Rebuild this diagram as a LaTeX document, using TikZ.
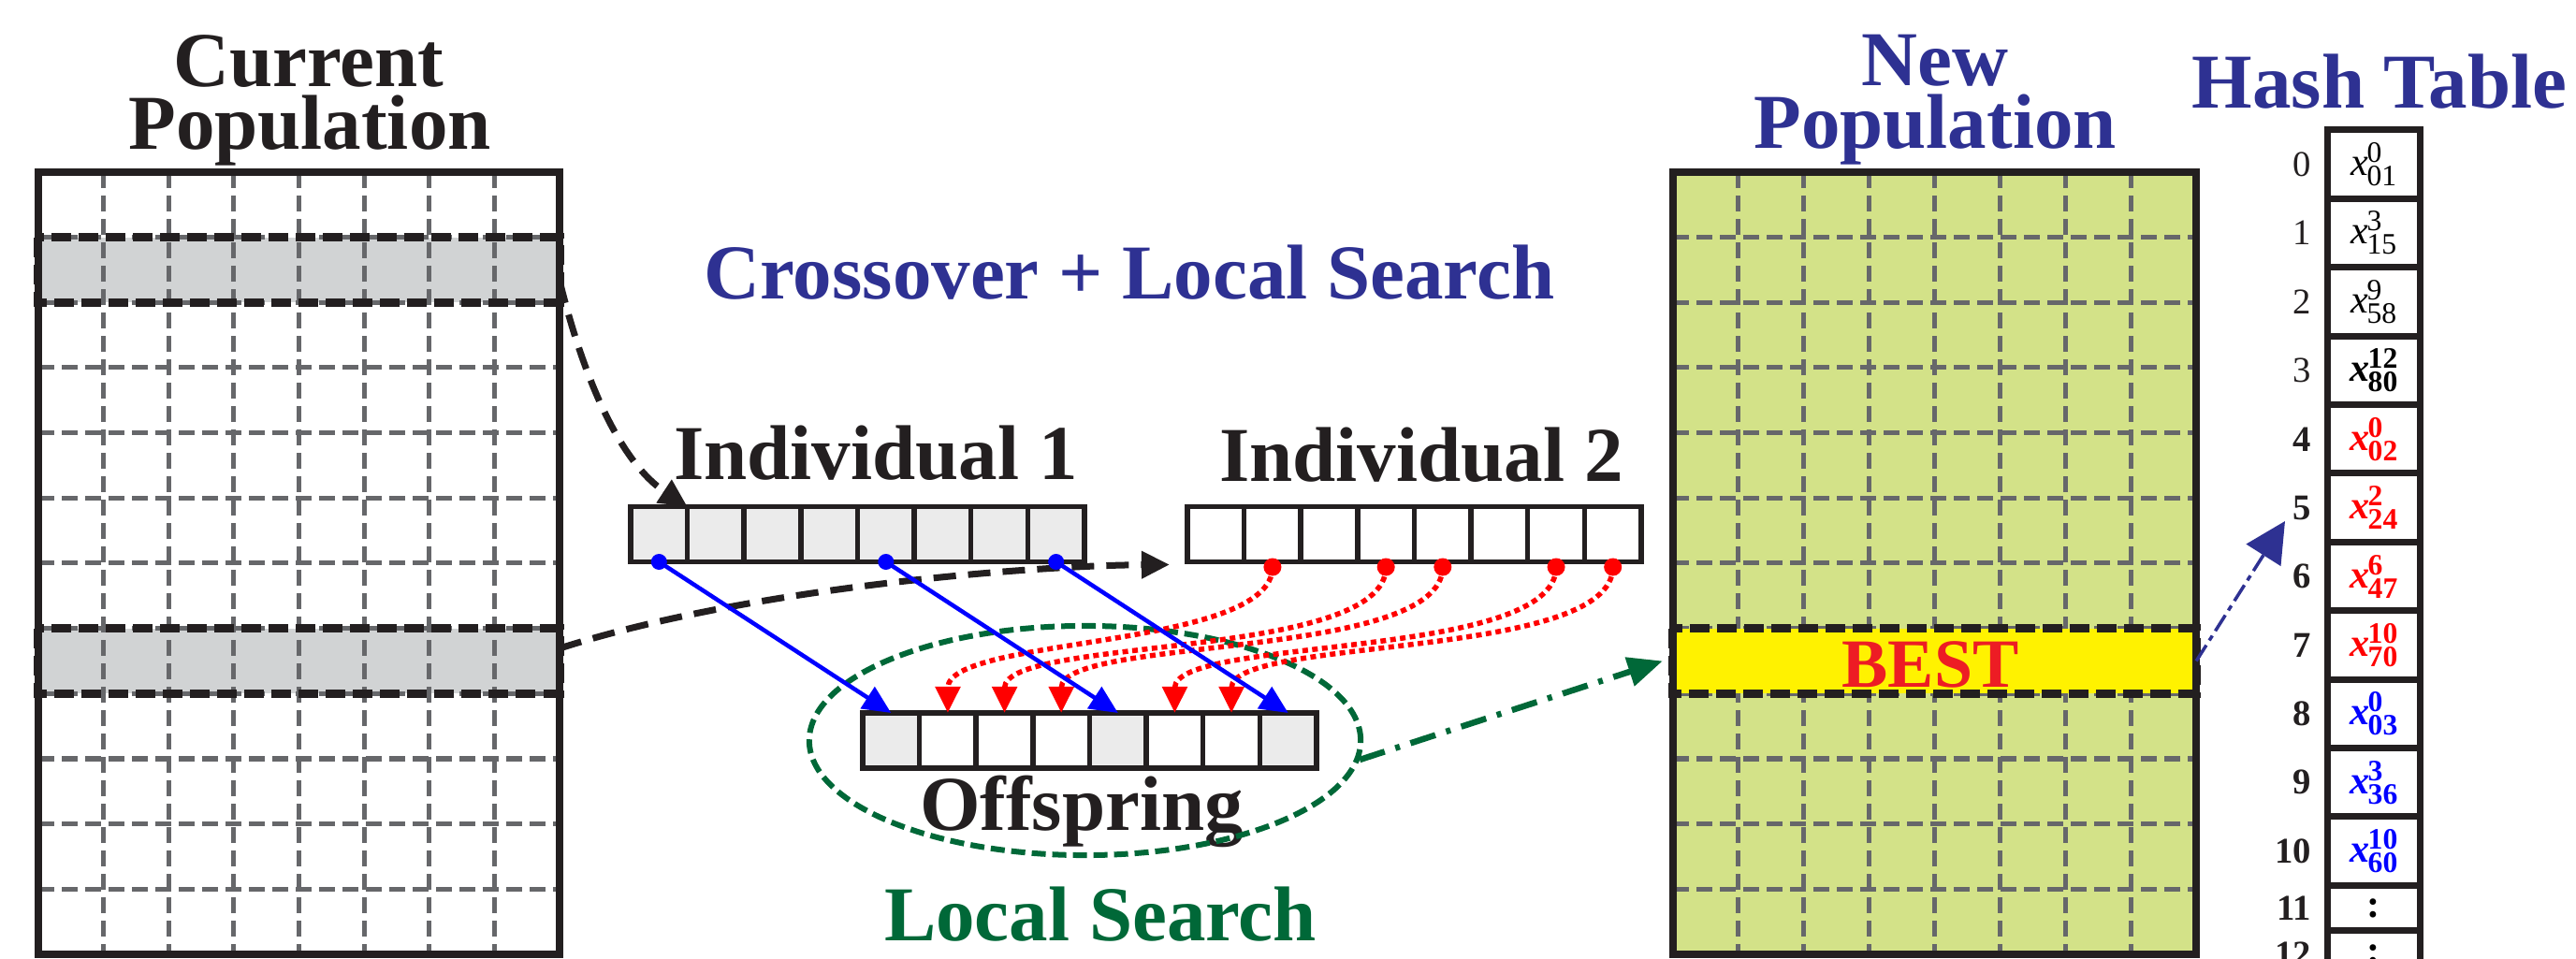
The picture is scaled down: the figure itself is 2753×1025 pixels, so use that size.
\documentclass[tikz,border=0pt]{standalone}
\usepackage{fontspec}
\setmainfont{Liberation Serif}
\usetikzlibrary{arrows.meta,shapes.geometric}
\definecolor{ink}{HTML}{231F20}
\definecolor{gridgray}{HTML}{66676A}
\definecolor{selgray}{HTML}{D1D3D4}
\definecolor{cellgray}{HTML}{EBEBEB}
\definecolor{popgreen}{HTML}{D3E288}
\definecolor{bestyellow}{HTML}{FFF200}
\definecolor{bestred}{HTML}{ED1C24}
\definecolor{titleblue}{HTML}{2E3192}
\definecolor{lsgreen}{HTML}{006838}
\definecolor{pured}{HTML}{FF0000}
\definecolor{pureblue}{HTML}{0000FF}
\newcommand{\hx}[2]{\textit{x}\kern-0.6pt\rlap{\raisebox{4pt}{\fontsize{9}{9}\selectfont#1}}\raisebox{-3.1pt}{\fontsize{9}{9}\selectfont#2}}
\begin{document}
\begin{tikzpicture}[x=0.01cm,y=-0.01cm,
  titletext/.style={font=\fontsize{23.6}{24}\selectfont\bfseries, inner sep=0pt, anchor=base},
  gridline/.style={draw=gridgray, line width=0.05cm, dash pattern=on 0.17cm off 0.08cm},
  selrow/.style={fill=selgray, minimum width=5.57cm, minimum height=0.6967cm, inner sep=0pt, outer sep=0pt},
  bestrow/.style={fill=bestyellow, minimum width=5.59cm, minimum height=0.6967cm, inner sep=0pt, outer sep=0pt},
  seldash/.style={draw=ink, line width=0.09cm, dash pattern=on 0.21cm off 0.08cm},
  popbox/.style={draw=ink, line width=0.085cm},
  cell/.style={draw=ink, line width=0.055cm, minimum width=0.60625cm, minimum height=0.59cm, inner sep=0pt, outer sep=0pt},
  hcell/.style={draw=ink, fill=white, line width=0.07cm, minimum width=0.98cm, inner sep=0pt, outer sep=0pt, font=\fontsize{12}{12}\selectfont},
  hidx/.style={anchor=east, inner sep=0pt, text=ink, font=\fontsize{11}{11}\selectfont},
  blackarrow/.style={draw=ink, line width=0.07cm, dash pattern=on 0.24cm off 0.13cm, -{Triangle[length=0.3cm,width=0.28cm]}},
  bluearrow/.style={draw=pureblue, line width=0.045cm, -{Triangle[length=0.3cm,width=0.27cm]}},
  redarrow/.style={draw=pured, line width=0.055cm, dash pattern=on 0.06cm off 0.045cm, -{Triangle[length=0.28cm,width=0.26cm]}},
  greenarrow/.style={draw=lsgreen, line width=0.065cm, dash pattern=on 0.28cm off 0.12cm on 0.05cm off 0.12cm, -{Triangle[length=0.37cm,width=0.31cm]}},
  hasharrow/.style={draw=titleblue, line width=0.035cm, dash pattern=on 0.2cm off 0.06cm on 0.06cm off 0.06cm, -{Triangle[length=0.43cm,width=0.43cm]}}
]
\useasboundingbox (0,0) rectangle (2753,1025);
\clip (0,0) rectangle (2753,1025);
\fill[white] (0,0) rectangle (2753,1025);

% ---------- Current population ----------
\node[titletext, text=ink] (cur1) at (330,93) {Current};
\node[titletext, text=ink] (cur2) at (331,160) {Population};
\fill[white] (41,184) rectangle (598,1020);
\node[selrow] (sel1) at (319.5,288.5) {};
\node[selrow] (sel7) at (319.5,706.5) {};
\foreach \i in {1,...,7} \draw[gridline] ({41+\i*69.625},184) -- ({41+\i*69.625},1020);
\foreach \j in {1,...,11} \draw[gridline] (41,{184+\j*69.667}) -- (598,{184+\j*69.667});
\draw[popbox] (41,184) rectangle (598,1020);
\draw[seldash] (sel1.north west) rectangle (sel1.south east);
\draw[seldash] (sel7.north west) rectangle (sel7.south east);

% ---------- New population ----------
\node[titletext, text=titleblue] (new1) at (2068,92) {New};
\node[titletext, text=titleblue] (new2) at (2068,159) {Population};
\fill[popgreen] (1788,184) rectangle (2347,1020);
\foreach \i in {1,...,7} \draw[gridline] ({1788+\i*69.875},184) -- ({1788+\i*69.875},1020);
\foreach \j in {1,...,11} \draw[gridline] (1788,{184+\j*69.667}) -- (2347,{184+\j*69.667});
\node[bestrow] (best) at (2067.5,706.5) {};
\draw[popbox] (1788,184) rectangle (2347,1020);
\draw[seldash] (best.north west) rectangle (best.south east);
\node[inner sep=0pt, anchor=base, text=bestred, font=\fontsize{21}{21}\selectfont\bfseries] (bestlabel) at (2063,735) {BEST};

% ---------- Middle titles ----------
\node[titletext, text=titleblue] (cls) at (1207,320) {Crossover + Local Search};
\node[titletext, text=ink] (ind1) at (936,513) {Individual 1};
\node[titletext, text=ink] (ind2) at (1519,515) {Individual 2};
\node[titletext, text=ink] (offl) at (1156,888) {Offspring};
\node[titletext, text=lsgreen] (lsl) at (1176,1006) {Local Search};

% ---------- Individuals and offspring ----------
\foreach \i in {1,...,8} \node[cell, fill=cellgray] (a\i) at ({674+(\i-0.5)*60.625},571) {};
\foreach \i in {1,...,8} \node[cell, fill=white] (b\i) at ({1269+(\i-0.5)*60.625},571) {};
\foreach \i/\f in {1/cellgray,2/white,3/white,4/white,5/cellgray,6/white,7/white,8/cellgray}
  \node[cell, fill=\f] (o\i) at ({922+(\i-0.5)*60.625},791.5) {};

% local search ellipse
\node[draw=lsgreen, ellipse, line width=0.06cm, dash pattern=on 0.15cm off 0.07cm,
      minimum width=5.89cm, minimum height=2.45cm, inner sep=0pt] (ls) at (1159.5,791.5) {};

% black dashed selections
\coordinate (s1) at ([yshift=-0.12cm]sel1.east);
\coordinate (s7) at ([yshift=0.135cm]sel7.east);
\coordinate (in2) at ([xshift=-0.19cm,yshift=-0.03cm]b1.south west);
\draw[blackarrow] (s1) .. controls +(27,110) and +(-70,-46) .. (a1.north east);
\draw[blackarrow] (s7) .. controls +(202,-65) and +(-150,1) .. (in2);

% red dotted copies from individual 2
\foreach \s in {2,4,5,7,8} \coordinate (rd\s) at ([yshift=-0.055cm]b\s.south);
\draw[redarrow] (rd2) .. controls +(0,88) and +(0,-82) .. (o2.north);
\draw[redarrow] (rd4) .. controls +(0,100) and +(0,-82) .. (o3.north);
\draw[redarrow] (rd5) .. controls +(0,100) and +(0,-82) .. (o4.north);
\draw[redarrow] (rd7) .. controls +(0,100) and +(0,-82) .. (o6.north);
\draw[redarrow] (rd8) .. controls +(0,100) and +(0,-82) .. (o7.north);
\foreach \s in {2,4,5,7,8} \fill[pured] (rd\s) circle[radius=0.095cm];

% blue copies from individual 1
\draw[bluearrow] (a1.south) -- (o1.north);
\draw[bluearrow] (a5.south) -- (o5.north);
\draw[bluearrow] (a8.south) -- (o8.north);
\foreach \s in {1,5,8} \fill[pureblue] (a\s.south) circle[radius=0.085cm];

% green arrow to BEST
\draw[greenarrow] (ls.-4) -- ([xshift=-0.11cm]best.west);

% ---------- Hash table ----------
\node[titletext, text=titleblue] (htitle) at (2543,116) {Hash Table};
\node[hcell, minimum height=0.734cm] (h0) at (2537,175.7) {\hx{0}{01}};
\node[hcell, minimum height=0.734cm] (h1) at (2537,249.1) {\hx{3}{15}};
\node[hcell, minimum height=0.734cm] (h2) at (2537,322.5) {\hx{9}{58}};
\node[hcell, minimum height=0.734cm] (h3) at (2537,395.9) {\bfseries\hx{12}{80}};
\node[hcell, minimum height=0.734cm, text=pured] (h4) at (2537,469.3) {\bfseries\hx{0}{02}};
\node[hcell, minimum height=0.734cm, text=pured] (h5) at (2537,542.7) {\bfseries\hx{2}{24}};
\node[hcell, minimum height=0.734cm, text=pured] (h6) at (2537,616.1) {\bfseries\hx{6}{47}};
\node[hcell, minimum height=0.734cm, text=pured] (h7) at (2537,689.5) {\bfseries\hx{10}{70}};
\node[hcell, minimum height=0.734cm, text=pureblue] (h8) at (2537,762.9) {\bfseries\hx{0}{03}};
\node[hcell, minimum height=0.734cm, text=pureblue] (h9) at (2537,836.3) {\bfseries\hx{3}{36}};
\node[hcell, minimum height=0.734cm, text=pureblue] (h10) at (2537,909.7) {\bfseries\hx{10}{60}};
\node[hcell, minimum height=0.486cm] (h11) at (2537,970.7) {\bfseries :};
\node[hcell, minimum height=0.5cm] (h12) at (2537,1020) {\bfseries :};
\node[hidx] (i0) at (2471,175.7) {0};
\node[hidx] (i1) at (2471,249.1) {1};
\node[hidx] (i2) at (2471,322.5) {2};
\node[hidx] (i3) at (2471,395.9) {3};
\node[hidx, font=\fontsize{11}{11}\selectfont\bfseries] (i4) at (2471,469.3) {4};
\node[hidx, font=\fontsize{11}{11}\selectfont\bfseries] (i5) at (2471,542.7) {5};
\node[hidx, font=\fontsize{11}{11}\selectfont\bfseries] (i6) at (2471,616.1) {6};
\node[hidx, font=\fontsize{11}{11}\selectfont\bfseries] (i7) at (2471,689.5) {7};
\node[hidx, font=\fontsize{11}{11}\selectfont\bfseries] (i8) at (2471,762.9) {8};
\node[hidx, font=\fontsize{11}{11}\selectfont\bfseries] (i9) at (2471,836.3) {9};
\node[hidx, font=\fontsize{11}{11}\selectfont\bfseries] (i10) at (2471,909.7) {10};
\node[hidx, font=\fontsize{11}{11}\selectfont\bfseries] (i11) at (2471,970.7) {11};
\node[hidx, font=\fontsize{11}{11}\selectfont\bfseries] (i12) at (2471,1020) {12};

% arrow from BEST to hash table
\coordinate (hashtip) at (2442,557);
\draw[hasharrow] (best.east) -- (hashtip);
\end{tikzpicture}
\end{document}
